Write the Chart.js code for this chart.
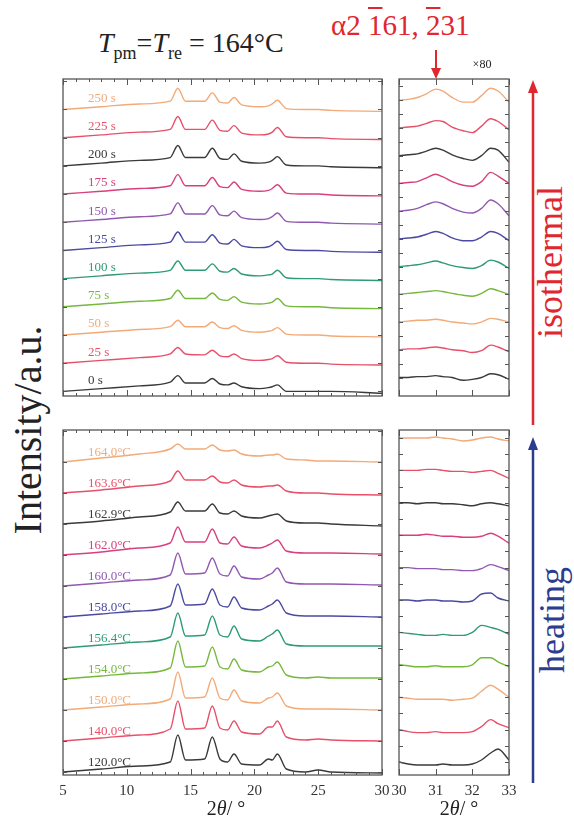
<!DOCTYPE html>
<html>
<head>
<meta charset="utf-8">
<script src="https://cdn.jsdelivr.net/npm/chart.js@4"></script>
<style>
body { margin: 0; background: #fff; }
#fig { position: relative; width: 574px; height: 818px; overflow: hidden; font-family: 'Liberation Serif', 'Times New Roman', 'DejaVu Serif', serif; color: #222; }
canvas { position: absolute; }
.t { position: absolute; white-space: nowrap; line-height: 1; }
.rot { transform: translate(-50%, -50%) rotate(-90deg); }
.ctr { transform: translate(-50%, -50%); }
sub { font-size: 18px; vertical-align: -7px; line-height: 0; }
.ob { text-decoration: overline; text-decoration-thickness: 2px; }
</style>
</head>
<body>
<div id="fig">
  <canvas id="tl" width="343" height="351" style="left:51px;top:75px"></canvas>
  <canvas id="bl" width="343" height="375" style="left:51px;top:426px"></canvas>
  <canvas id="tr" width="134" height="351" style="left:387px;top:75px"></canvas>
  <canvas id="br" width="134" height="375" style="left:387px;top:426px"></canvas>

  <div class="t" style="left:98px;top:29px;font-size:28px"><i>T</i><sub>pm</sub>=<i>T</i><sub>re</sub> = 164°C</div>
  <div class="t" style="left:331px;top:11px;font-size:29px;color:#e0262e">α2 <span class="ob">1</span>61, <span class="ob">2</span>31</div>
  <div class="t ctr" style="left:482px;top:64px;font-size:12px">×80</div>
  <div class="t rot" style="left:28px;top:430px;font-size:40px">Intensity/a.u.</div>
  <div class="t rot" style="left:550px;top:262px;font-size:36px;color:#e0262e">isothermal</div>
  <div class="t rot" style="left:552px;top:620px;font-size:36px;color:#2b3d8f">heating</div>
  <div class="t ctr" style="left:226px;top:808px;font-size:20px">2<i>θ</i>/ °</div>
  <div class="t ctr" style="left:459px;top:808px;font-size:20px">2<i>θ</i>/ °</div>

  <svg width="574" height="818" style="position:absolute;left:0;top:0">
    <line x1="533" y1="425" x2="533" y2="90" stroke="#e0262e" stroke-width="2.5"/>
    <polygon points="533,80 528,93 538,93" fill="#e0262e"/>
    <line x1="533" y1="783" x2="533" y2="447" stroke="#2b3d8f" stroke-width="2.5"/>
    <polygon points="533,437 528,450 538,450" fill="#2b3d8f"/>
    <line x1="436" y1="50" x2="436" y2="70" stroke="#e0262e" stroke-width="2"/>
    <polygon points="436,79 431,68 441,68" fill="#e0262e"/>
  </svg>
</div>

<script>
// colour cycle, bottom curve first
const colors = ['#3a3a3a', '#e8506a', '#f2aa78', '#76b83e', '#2e9a78', '#4a4aa2', '#9058b0', '#d8407c', '#3a3a3a', '#e8506a', '#f2aa78'];

const isoLabels = ['0 s', '25 s', '50 s', '75 s', '100 s', '125 s', '150 s', '175 s', '200 s', '225 s', '250 s'];
const heatLabels = ['120.0°C', '140.0°C', '150.0°C', '154.0°C', '156.4°C', '158.0°C', '160.0°C', '162.0°C', '162.9°C', '163.6°C', '164.0°C'];

// 2theta sample points, wide range (deg)
const xWide = [5, 8, 11, 13.4, 14.0, 14.6, 16.1, 16.7, 17.3, 17.9, 18.4, 19.0, 20.4, 21.1, 21.4, 21.8, 22.5, 24, 25, 26, 30];
// 2theta sample points, 30-33 deg window (x80)
const xNarrow = [30, 30.25, 30.5, 30.75, 31.0, 31.2, 31.45, 31.75, 32.0, 32.25, 32.5, 32.7, 33];

// intensity (a.u.), isothermal at 164 C, 0 s ... 250 s
const isoWide = [
  [0, 3, 6, 10, 17, 9, 9, 14, 8, 7, 9, 5, 3, 4, 5, 7, 0, 0, 0, 0, -2],
  [0, 3, 6, 10, 17, 10, 9, 14, 8, 7, 10, 5, 3, 4, 5, 8, 1, 0, 0, -1, -2],
  [0, 3, 6, 9, 16, 9, 9, 14, 8, 7, 10, 5, 3, 4, 5, 8, 1, 0, 0, -1, -2],
  [0, 3, 6, 9, 18, 9, 9, 15, 8, 7, 11, 5, 3, 4, 5, 9, 1, 0, 0, -1, -2],
  [0, 3, 6, 9, 19, 9, 9, 16, 8, 7, 11, 5, 3, 4, 5, 9, 1, 0, 0, -1, -2],
  [0, 3, 6, 9, 20, 9, 9, 17, 8, 7, 12, 5, 3, 4, 6, 10, 1, 0, 0, -1, -2],
  [0, 3, 6, 9, 21, 9, 9, 18, 8, 7, 12, 5, 3, 4, 6, 10, 1, 0, 0, -1, -2],
  [0, 3, 6, 9, 21, 9, 9, 18, 8, 7, 13, 5, 3, 4, 6, 10, 1, 0, 0, -1, -2],
  [0, 3, 6, 9, 22, 9, 9, 19, 8, 7, 13, 5, 3, 4, 6, 10, 1, 0, 0, -1, -2],
  [0, 3, 6, 9, 23, 9, 9, 19, 8, 7, 13, 5, 3, 4, 6, 11, 1, 0, 0, -1, -2],
  [0, 3, 6, 9, 23, 9, 9, 18, 8, 7, 13, 5, 3, 4, 6, 10, 1, 0, 0, -1, -2]
];

// intensity (a.u.), heating, 120.0 C ... 164.0 C
const heatWide = [
  [0, 3, 6, 10, 37, 12, 13, 35, 13, 10, 18, 8, 7, 13, 12, 18, 3, 0, 2, 0, -1],
  [0, 3, 6, 12, 40, 12, 13, 35, 13, 11, 20, 9, 7, 14, 14, 20, 4, 1, 2, 1, 0],
  [0, 3, 6, 11, 38, 12, 13, 32, 12, 10, 20, 9, 7, 12, 13, 17, 4, 1, 1, 1, 0],
  [0, 3, 6, 11, 38, 12, 13, 32, 12, 10, 20, 9, 7, 12, 13, 17, 4, 1, 2, 1, 1],
  [0, 3, 6, 11, 35, 12, 13, 32, 13, 11, 22, 9, 7, 12, 14, 18, 4, 2, 2, 2, 2],
  [0, 3, 6, 11, 33, 12, 13, 28, 12, 10, 20, 9, 7, 11, 13, 17, 4, 1, 1, 1, 0],
  [0, 3, 6, 11, 33, 12, 13, 28, 12, 10, 20, 9, 7, 11, 13, 18, 4, 2, 2, 2, 1],
  [0, 3, 7, 12, 28, 13, 13, 26, 12, 11, 18, 9, 7, 10, 12, 15, 4, 2, 2, 2, 1],
  [0, 3, 7, 12, 22, 13, 13, 20, 11, 10, 13, 8, 6, 8, 9, 10, 3, 1, 1, 0, -2],
  [0, 3, 7, 12, 22, 13, 13, 17, 11, 10, 13, 8, 6, 7, 7, 8, 2, 0, 0, -1, -2],
  [0, 4, 8, 13, 18, 13, 13, 17, 12, 11, 12, 8, 6, 7, 7, 8, 3, 2, 1, 1, 0]
];

const isoNarrow = [
  [0, 0, 1, 1, 2, 1, 0, -3, -2, 0, 4, 3, -2],
  [0, 1, 1, 2, 3, 2, 0, -1, -3, -1, 5, 3, -2],
  [0, 1, 2, 2, 3, 2, 0, -1, -2, 0, 4, 3, 0],
  [0, 1, 2, 3, 4, 3, 1, -1, -2, 1, 6, 4, 0],
  [0, 1, 2, 4, 6, 4, 1, -1, -2, 1, 7, 5, -2],
  [0, 1, 2, 5, 8, 6, 1, -2, -2, 2, 8, 6, -2],
  [0, 1, 3, 7, 10, 8, 3, -1, -2, 3, 12, 8, -5],
  [0, 1, 2, 6, 10, 7, 2, -2, -3, 2, 12, 8, 0],
  [0, 1, 2, 5, 8, 6, 1, -3, -5, 0, 8, 6, -7],
  [0, 1, 2, 5, 8, 7, 1, -3, -5, 2, 10, 7, -2],
  [0, 1, 3, 7, 12, 10, 3, -2, -2, 5, 13, 10, -2]
];

const heatNarrow = [
  [0, -2, -3, -3, -3, -2, -3, -3, -2, 2, 9, 13, 2],
  [0, -2, -3, -3, -2, -3, -3, -3, -2, 3, 10, 6, 2],
  [0, -1, -2, -2, -2, -2, -3, -2, -1, 6, 12, 8, 0],
  [0, -1, -2, -2, -1, -2, -2, -2, 0, 7, 7, 3, -2],
  [0, -1, -2, -3, -3, -2, -3, -3, 0, 7, 5, 3, -2],
  [0, 0, -1, 0, 0, -1, -1, -2, -1, 6, 7, 2, -1],
  [0, 0, -1, -1, -1, -2, -2, -3, -3, -1, 3, 1, -3],
  [0, 0, 0, 1, 0, -1, -1, -2, -2, -1, 2, -1, -8],
  [0, 0, -1, 0, 0, -1, -1, -2, -3, -1, 0, -1, -3],
  [0, 0, 0, 1, 1, 0, -1, -1, -2, -1, 0, -3, -8],
  [0, 0, 0, 0, 1, 0, -1, -3, -2, 0, 1, -1, -3]
];

const serif = '"Liberation Serif", "Times New Roman", "DejaVu Serif", serif';

// box, inward ticks and the curve labels
const frame = {
  id: 'frame',
  afterDatasetsDraw(chart, args, o) {
    const ctx = chart.ctx, a = chart.chartArea, x = chart.scales.x, y = chart.scales.y;
    ctx.save();
    ctx.strokeStyle = '#555';
    ctx.lineWidth = 1.3;
    ctx.strokeRect(a.left, a.top, a.right - a.left, a.bottom - a.top);
    ctx.lineWidth = 1;
    ctx.beginPath();
    for (let v = x.min; v <= x.max + 1e-6; v += o.xMinor) {
      const px = Math.round(x.getPixelForValue(v)) + 0.5;
      const r = v / o.xMajor;
      const len = Math.abs(r - Math.round(r)) < 1e-6 ? 6 : 3;
      ctx.moveTo(px, a.bottom); ctx.lineTo(px, a.bottom - len);
      ctx.moveTo(px, a.top); ctx.lineTo(px, a.top + len);
    }
    for (let v = o.start; v < y.max; v += o.step / o.yDiv) {
      const py = Math.round(y.getPixelForValue(v)) + 0.5;
      ctx.moveTo(a.left, py); ctx.lineTo(a.left + 4, py);
      ctx.moveTo(a.right, py); ctx.lineTo(a.right - 4, py);
    }
    ctx.stroke();
    if (o.labels) {
      ctx.font = '13px ' + serif;
      ctx.textBaseline = 'middle';
      o.labels.forEach((t, i) => {
        ctx.fillStyle = colors[i];
        ctx.fillText(t, x.getPixelForValue(o.labelX), y.getPixelForValue(o.start + i * o.step + o.labelDy));
      });
    }
    ctx.restore();
  }
};

function stacked(xs, rows, start, step) {
  return rows.map((row, i) => ({
    data: row.map((v, j) => ({ x: xs[j], y: start + i * step + v })),
    borderColor: colors[i],
    borderWidth: 1.4,
    pointRadius: 0,
    cubicInterpolationMode: 'monotone',
    fill: false
  }));
}

function panel(id, xs, rows, xr, yMax, start, step, withTicks, fr) {
  new Chart(document.getElementById(id), {
    type: 'line',
    data: { datasets: stacked(xs, rows, start, step) },
    options: {
      responsive: false,
      animation: false,
      layout: { padding: { left: 12, right: 12, top: 4, bottom: withTicks ? 0 : 4 } },
      plugins: { legend: { display: false }, tooltip: { enabled: false }, frame: Object.assign({ start: start, step: step }, fr) },
      scales: {
        x: {
          type: 'linear', min: xr[0], max: xr[1],
          display: withTicks,
          grid: { display: false, drawTicks: false },
          border: { display: false },
          ticks: { stepSize: xr[2], autoSkip: false, maxRotation: 0, padding: 7, color: '#333', font: { family: serif, size: 15 } },
          afterFit: s => { s.height = 26; s.paddingLeft = 0; s.paddingRight = 0; }
        },
        y: { min: 0, max: yMax, display: false }
      }
    },
    plugins: [frame]
  });
}

panel('tl', xWide, isoWide, [5, 30, 5], 343, 5, 30.5, false, { xMinor: 1, xMajor: 5, yDiv: 1, labels: isoLabels, labelX: 6.95, labelDy: 12 });
panel('bl', xWide, heatWide, [5, 30, 5], 345, 3, 31, true, { xMinor: 1, xMajor: 5, yDiv: 1, labels: heatLabels, labelX: 6.95, labelDy: 9 });
panel('tr', xNarrow, isoNarrow, [30, 33, 1], 343, 20, 30, false, { xMinor: 1, xMajor: 1, yDiv: 2 });
panel('br', xNarrow, heatNarrow, [30, 33, 1], 345, 13, 32.4, true, { xMinor: 1, xMajor: 1, yDiv: 2 });
</script>
</body>
</html>
